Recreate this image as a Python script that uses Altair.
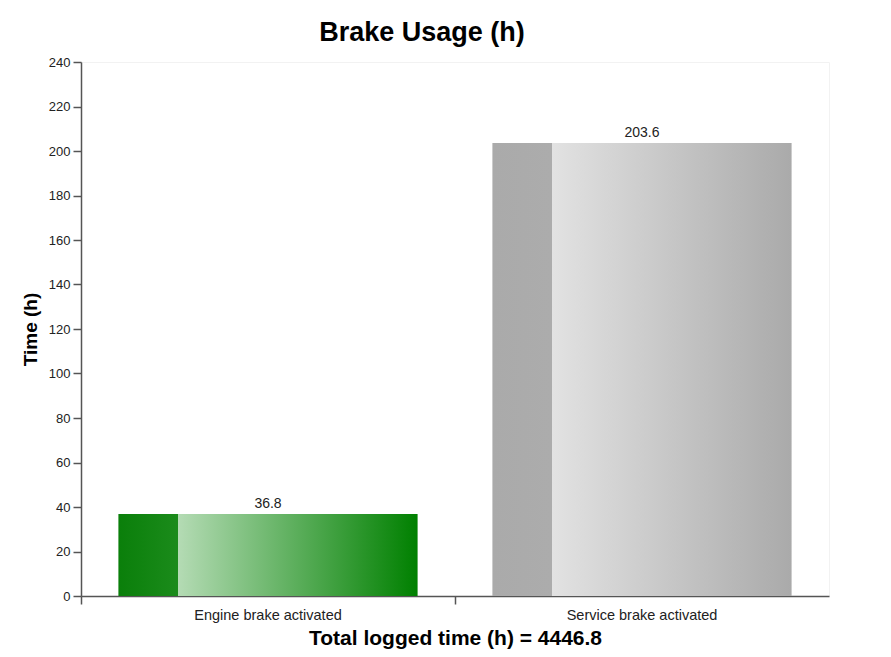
import altair as alt
import pandas as pd

categories = ["Engine brake activated", "Service brake activated"]
hours = [36.8, 203.6]
total_logged = 4446.8
y_ticks = list(range(0, 241, 20))

df = pd.DataFrame({"category": categories, "hours": hours})

FONT = "Liberation Sans"

green = alt.LinearGradient(
    gradient="linear", x1=0, x2=1, y1=0, y2=0,
    stops=[
        alt.GradientStop(color="#0a7f0a", offset=0),
        alt.GradientStop(color="#1b8b1b", offset=0.2),
        alt.GradientStop(color="#b4dbb4", offset=0.2001),
        alt.GradientStop(color="#008000", offset=1),
    ],
)
grey = alt.LinearGradient(
    gradient="linear", x1=0, x2=1, y1=0, y2=0,
    stops=[
        alt.GradientStop(color="#aaaaaa", offset=0),
        alt.GradientStop(color="#acacac", offset=0.2),
        alt.GradientStop(color="#e2e2e2", offset=0.2001),
        alt.GradientStop(color="#aaaaaa", offset=1),
    ],
)

x_enc = alt.X(
    "category:N",
    sort=categories,
    scale=alt.Scale(paddingInner=0, paddingOuter=0),
    axis=alt.Axis(
        title=f"Total logged time (h) = {total_logged}",
        bandPosition=0,
        labelOffset=0,
        labelAngle=0,
        labelFontSize=14.5,
        labelFont=FONT,
        labelColor="#222222",
        labelPadding=4,
        tickSize=8,
        tickColor="#555555",
        tickWidth=1.5,
        domainColor="#555555",
        domainWidth=1.5,
        titleFont=FONT,
        titleFontSize=21,
        titleFontWeight="bold",
        titleColor="#000000",
        titlePadding=6,
        grid=False,
    ),
)
y_enc = alt.Y(
    "hours:Q",
    scale=alt.Scale(domain=[0, 240]),
    axis=alt.Axis(
        title="Time (h)",
        values=y_ticks,
        labelFontSize=13,
        labelFont=FONT,
        labelColor="#222222",
        labelPadding=3,
        tickSize=8,
        tickColor="#555555",
        tickWidth=1.5,
        domainColor="#555555",
        domainWidth=1.5,
        titleFont=FONT,
        titleFontSize=19,
        titleFontWeight="bold",
        titleColor="#000000",
        titlePadding=8,
        grid=False,
    ),
)

base = alt.Chart(df)

bar_engine = base.transform_filter(
    alt.datum.category == categories[0]
).mark_bar(color=green, width=alt.RelativeBandSize(0.8)).encode(x=x_enc, y=y_enc)

bar_service = base.transform_filter(
    alt.datum.category == categories[1]
).mark_bar(color=grey, width=alt.RelativeBandSize(0.8)).encode(x=x_enc, y=y_enc)

labels = base.mark_text(
    dy=-10, fontSize=14, font=FONT, color="#222222"
).encode(x=x_enc, y=y_enc, text=alt.Text("hours:Q", format=".1f"))

chart = alt.layer(bar_engine, bar_service, labels).properties(
    width=748,
    height=534,
    autosize=alt.AutoSizeParams(type="none"),
    padding={"left": 73, "top": 54, "right": 46, "bottom": 56},
    title=alt.TitleParams(
        "Brake Usage (h)",
        font=FONT,
        fontSize=27,
        fontWeight="bold",
        color="#000000",
        anchor="middle",
        dx=-33,
        offset=9,
    ),
).configure_view(stroke="#f2f2f2")

chart.save("out.html", embed_options={"renderer": "svg", "actions": False})
